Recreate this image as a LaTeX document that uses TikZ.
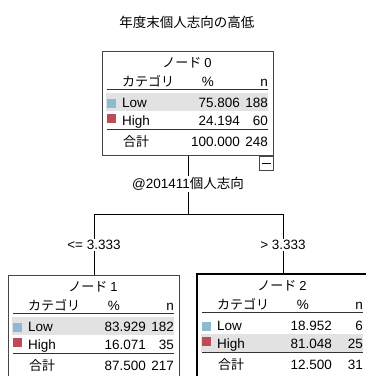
\documentclass[tikz,border=0pt]{standalone}
\usepackage{fontspec}
\setmainfont{Liberation Sans}
\newfontfamily\jp{Noto Sans CJK JP}
\definecolor{lowc}{RGB}{141,186,210}
\definecolor{highc}{RGB}{190,75,90}
\definecolor{hlc}{RGB}{226,226,226}
\definecolor{boxc}{RGB}{70,70,70}
\tikzset{
 txt/.style={inner sep=0pt, font=\fontsize{13.5}{15}\selectfont},
 jtxt/.style={inner sep=0pt, font=\fontsize{13}{15}\selectfont\jp},
 frame/.style={draw=boxc, line width=1pt, inner sep=0pt, minimum width=171pt, minimum height=104pt, anchor=north west},
 rulel/.style={draw=black!80, line width=1.1pt},
 conn/.style={draw=black, line width=1pt},
 lbl/.style={fill=white, inner sep=1.5pt, font=\fontsize{13.5}{15}\selectfont},
}
\def\pcol{138}
\def\hly{42}
\newcommand\spsstable[9]{%
 \begin{scope}[shift={(#1,#2)}]
  \node[frame] (box#3) at (0,0) {};
  \fill[hlc] (4,\hly) rectangle (166,{\hly+18});
  \node[jtxt, anchor=base] (n#3ttl) at (85,16.5) {ノード {\rmfamily #3}};
  \node[jtxt, anchor=base west] (n#3cat) at (20,35.5) {カテゴリ};
  \node[txt, anchor=base] (n#3pcth) at (106,35.5) {\%};
  \node[txt, anchor=base east] (n#3nh) at (166,35.5) {n};
  \draw[rulel] (5,38.5) -- (166,38.5);
  \fill[lowc] (5,48) rectangle (13.5,56.5);
  \node[txt, anchor=base west] (n#3low) at (20,56.5) {Low};
  \node[txt, anchor=base east] (n#3lowp) at (\pcol,56.5) {#4};
  \node[txt, anchor=base east] (n#3lown) at (166,56.5) {#5};
  \fill[highc] (5,63) rectangle (13.5,71.5);
  \node[txt, anchor=base west] (n#3high) at (20,74.5) {High};
  \node[txt, anchor=base east] (n#3highp) at (\pcol,74.5) {#6};
  \node[txt, anchor=base east] (n#3highn) at (166,74.5) {#7};
  \draw[rulel] (5,78.5) -- (166,78.5);
  \node[jtxt, anchor=base west] (n#3tot) at (21,95.5) {合計};
  \node[txt, anchor=base east] (n#3totp) at (\pcol,95.5) {#8};
  \node[txt, anchor=base east] (n#3totn) at (166,95.5) {#9};
 \end{scope}}
\begin{document}
\begin{tikzpicture}[x=1pt, y=-1pt]
\useasboundingbox (0,0) rectangle (366,376);
\clip (0,0) rectangle (366,376);
\fill[white] (0,0) rectangle (366,376);
\node[inner sep=0pt, font=\fontsize{13.5}{15}\selectfont\jp] (maintitle) at (187,22) {年度末個人志向の高低};

\spsstable{102}{51}{0}{75.806}{188}{24.194}{60}{100.000}{248}
\node[draw=boxc, line width=1pt, minimum size=14pt, inner sep=0pt, anchor=north east] (m0) at (box0.south east) {};
\draw[line width=1pt] ([xshift=3pt]m0.west) -- ([xshift=-3pt]m0.east);

\spsstable{8}{275}{1}{83.929}{182}{16.071}{35}{87.500}{217}
\def\pcol{135}
\def\hly{60}
\spsstable{197}{274}{2}{18.952}{6}{81.048}{25}{12.500}{31}
\draw[line width=2pt] (box2.north west) rectangle (box2.south east);

\coordinate (hl) at (box1.north |- 0,214);
\coordinate (hr) at (box2.north |- 0,214);
\draw[conn] (box0.south) -- (box0.south |- hl);
\draw[conn] (hl) -- (hr);
\draw[conn] (hl) -- (box1.north);
\draw[conn] (hr) -- (box2.north);
\node[lbl] (split) at (box0.south |- 0,184) {@201411{\jp 個人志向}};
\node[lbl] (cl) at (hl |- 0,245) {<= 3.333};
\node[lbl] (cr) at (hr |- 0,245) {> 3.333};
\end{tikzpicture}
\end{document}
